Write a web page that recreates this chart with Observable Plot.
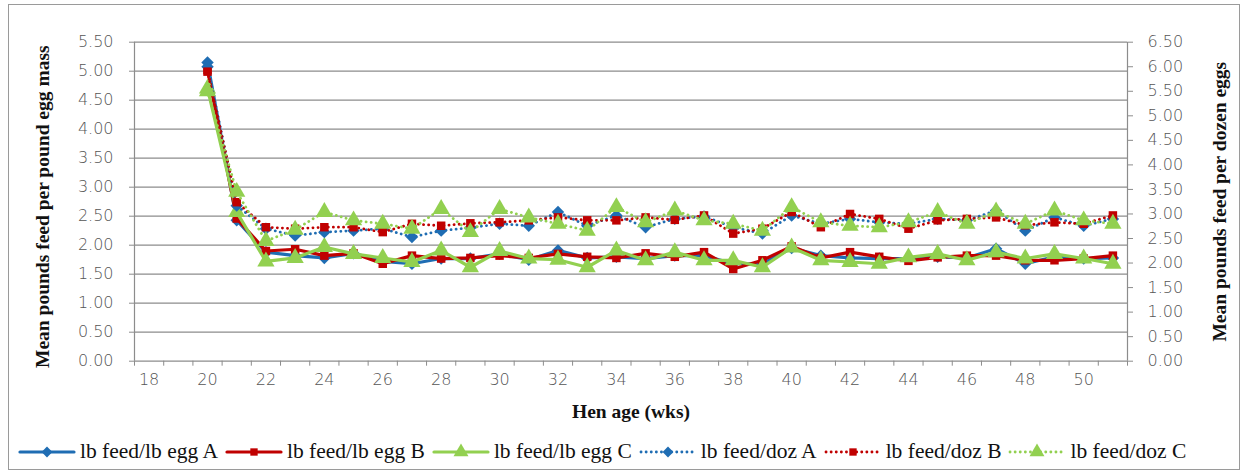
<!DOCTYPE html>
<html>
<head>
<meta charset="utf-8">
<script src="https://cdn.jsdelivr.net/npm/d3@7"></script>
<script src="https://cdn.jsdelivr.net/npm/@observablehq/plot@0.6"></script>
<style>
  html, body { margin: 0; padding: 0; background: #fff; }
  #wrap { position: relative; width: 1249px; height: 472px; overflow: hidden; }
  #frame { position: absolute; left: 8px; top: 4px; width: 1232px; height: 466px; border: 1px solid #9a9a9a; box-sizing: border-box; pointer-events: none; }
  #chart { position: absolute; left: 0; top: 0; }
  #legend { position: absolute; left: 18px; top: 439px; display: flex; align-items: center; font-family: "Liberation Serif", serif; font-size: 21.5px; color: #111; white-space: nowrap; }
  #legend .item { display: flex; align-items: center; }
  #legend svg { display: block; }
  .serif-title text, text.serif-title, .serif-title { font-family: "Liberation Serif", serif !important; }
  .tick-font text { font-family: "DejaVu Sans", sans-serif !important; font-weight: 200; }
</style>
</head>
<body>
<div id="wrap">
  <div id="chart"></div>
  <div id="legend"></div>
  <div id="frame"></div>
</div>
<script>
// ---- data ----
const weeks = [20,21,22,23,24,25,26,27,28,29,30,31,32,33,34,35,36,37,38,39,40,41,42,43,44,45,46,47,48,49,50,51];
const eggA = [5.15,2.43,1.88,1.82,1.78,1.86,1.72,1.68,1.77,1.77,1.85,1.75,1.91,1.78,1.80,1.77,1.82,1.82,1.68,1.68,1.95,1.82,1.78,1.77,1.77,1.80,1.78,1.94,1.68,1.80,1.77,1.78];
const eggB = [5.02,2.46,1.90,1.93,1.82,1.86,1.68,1.82,1.77,1.78,1.82,1.78,1.85,1.80,1.78,1.86,1.80,1.88,1.59,1.74,1.98,1.78,1.88,1.80,1.73,1.79,1.82,1.82,1.74,1.74,1.77,1.82];
const eggC = [4.70,2.57,1.72,1.78,1.97,1.85,1.78,1.71,1.91,1.62,1.90,1.77,1.75,1.62,1.91,1.74,1.88,1.74,1.74,1.62,1.96,1.74,1.71,1.68,1.79,1.85,1.74,1.88,1.77,1.85,1.77,1.68];
const dozA = [6.00,3.17,2.70,2.56,2.63,2.66,2.70,2.53,2.66,2.72,2.80,2.76,3.04,2.76,2.97,2.73,2.90,2.95,2.73,2.60,2.97,2.80,2.90,2.83,2.80,2.90,2.87,3.07,2.66,2.93,2.76,2.90];
const dozB = [5.90,3.24,2.73,2.70,2.73,2.73,2.63,2.80,2.76,2.81,2.83,2.87,2.93,2.87,2.87,2.93,2.88,2.97,2.60,2.70,3.04,2.73,3.00,2.90,2.70,2.87,2.90,2.93,2.77,2.83,2.80,2.97];
const dozC = [5.50,3.45,2.45,2.68,3.04,2.87,2.80,2.70,3.10,2.63,3.10,2.93,2.80,2.66,3.14,2.83,3.07,2.87,2.80,2.66,3.14,2.83,2.76,2.73,2.83,3.04,2.80,3.05,2.80,3.07,2.87,2.80];

const categories = d3.range(18, 52);            // 18 ... 51 on the category axis
const xLabels = d3.range(18, 52, 2);             // 18, 20, ... 50
const leftTicks = d3.range(0, 5.51, 0.5);        // 0.00 ... 5.50
const rightTicks = d3.range(0, 6.51, 0.5);       // 0.00 ... 6.50
const leftMax = 5.5, rightMax = 6.5;
const toLeft = r => r * leftMax / rightMax;

const seriesNames = ["lb feed/lb egg A","lb feed/lb egg B","lb feed/lb egg C","lb feed/doz A","lb feed/doz B","lb feed/doz C"];
const seriesValues = [eggA, eggB, eggC, dozA, dozB, dozC];
const seriesAxis = ["left","left","left","right","right","right"];
const colors = ["#1F6DB3","#C00000","#92D050","#1F6DB3","#C00000","#92D050"];
const symbols = ["diamond2","square2","triangle","diamond2","square2","triangle"];
const symR = [5.6, 5.4, 6.4, 5.6, 5.4, 6.4];

const series = seriesNames.map((name, i) => ({
  name,
  dotted: seriesAxis[i] === "right",
  color: colors[i],
  symbol: symbols[i],
  r: symR[i],
  rows: weeks.map((w, j) => ({week: w, v: seriesAxis[i] === "right" ? toLeft(seriesValues[i][j]) : seriesValues[i][j]}))
}));

const tickFont = "DejaVu Sans, sans-serif";
const serif = "Liberation Serif, serif";
const grid = "#8c8c8c";
const tickFill = "#555555";
const tickSizePx = 16;

const marks = [
  Plot.gridY(leftTicks, {stroke: grid, strokeOpacity: 1, strokeWidth: 1.2}),
  Plot.ruleX([categories[0] - 0.5, categories[categories.length - 1] + 0.5], {stroke: grid, strokeWidth: 1.2}),
  // between-category tick marks
  Plot.axisX(categories.map(c => c - 0.5).concat([categories[categories.length - 1] + 0.5]), {anchor: "bottom", tickSize: 5, tickFormat: () => "", stroke: grid, label: null}),
  Plot.axisX(xLabels, {anchor: "bottom", tickSize: 0, tickPadding: 12, fontSize: tickSizePx, fontFamily: tickFont, className: "tick-font", fill: tickFill, label: null}),
  Plot.axisY(leftTicks, {anchor: "left", tickSize: 5, tickPadding: 16, tickFormat: d => d.toFixed(2), fontSize: tickSizePx, fontFamily: tickFont, className: "tick-font", fill: tickFill, stroke: grid, label: null}),
  Plot.axisY(rightTicks.map(toLeft), {anchor: "right", tickSize: 5, tickPadding: 15, tickFormat: d => (d * rightMax / leftMax).toFixed(2), fontSize: tickSizePx, fontFamily: tickFont, className: "tick-font", fill: tickFill, stroke: grid, label: null}),
  Plot.text(["Mean pounds feed per pound egg mass"], {frameAnchor: "left", textAnchor: "middle", lineAnchor: "middle", dx: -92, dy: 5, rotate: -90, fontSize: 19.5, fontWeight: "bold", fontFamily: serif, className: "serif-title", fill: "#111"}),
  Plot.text(["Mean pounds feed per dozen eggs"], {frameAnchor: "right", textAnchor: "middle", lineAnchor: "middle", dx: 92, rotate: -90, fontSize: 19.5, fontWeight: "bold", fontFamily: serif, className: "serif-title", fill: "#111"}),
  Plot.text(["Hen age (wks)"], {frameAnchor: "bottom", textAnchor: "middle", lineAnchor: "middle", dy: 51, fontSize: 19.5, fontWeight: "bold", fontFamily: serif, className: "serif-title", fill: "#111"})
];

for (const s of series) {
  marks.push(Plot.line(s.rows, {
    x: "week", y: "v", stroke: s.color,
    strokeWidth: s.dotted ? 2.8 : 3.2,
    strokeDasharray: s.dotted ? "0.1 5" : null,
    strokeLinecap: "round", strokeLinejoin: "round"
  }));
  marks.push(Plot.dot(s.rows, {x: "week", y: "v", symbol: () => s.symbol, r: s.r, fill: s.color, stroke: "none"}));
}

const chart = Plot.plot({
  width: 1249,
  height: 430,
  marginLeft: 134,
  marginRight: 122,
  marginTop: 41.7,
  marginBottom: 69.3,
  style: {background: "transparent", overflow: "visible"},
  x: {type: "linear", domain: [categories[0] - 0.5, categories[categories.length - 1] + 0.5], axis: null},
  y: {domain: [0, leftMax], axis: null},
  symbol: {type: "identity"},
  marks
});
document.getElementById("chart").appendChild(chart);

// ---- legend (below the SVG) ----
const legend = document.getElementById("legend");
series.forEach((s, i) => {
  const item = document.createElement("div");
  item.className = "item";
  const w = 58, h = 18;
  const svg = d3.create("svg").attr("width", w).attr("height", h);
  svg.append("line").attr("x1", 2).attr("x2", w - 2).attr("y1", h / 2).attr("y2", h / 2)
    .attr("stroke", s.color).attr("stroke-width", s.dotted ? 2.8 : 3.2)
    .attr("stroke-linecap", "round")
    .attr("stroke-dasharray", s.dotted ? "0.1 5" : null);
  const symMap = {diamond2: d3.symbolDiamond2, square2: d3.symbolSquare2, triangle: d3.symbolTriangle};
  svg.append("path").attr("transform", `translate(${w / 2},${h / 2})`)
    .attr("d", d3.symbol(symMap[s.symbol], Math.PI * s.r * s.r * 0.75)())
    .attr("fill", s.color);
  item.appendChild(svg.node());
  const span = document.createElement("span");
  span.textContent = s.name;
  span.style.marginLeft = "4px";
  span.style.marginRight = "7px";
  item.appendChild(span);
  legend.appendChild(item);
});
</script>
</body>
</html>
